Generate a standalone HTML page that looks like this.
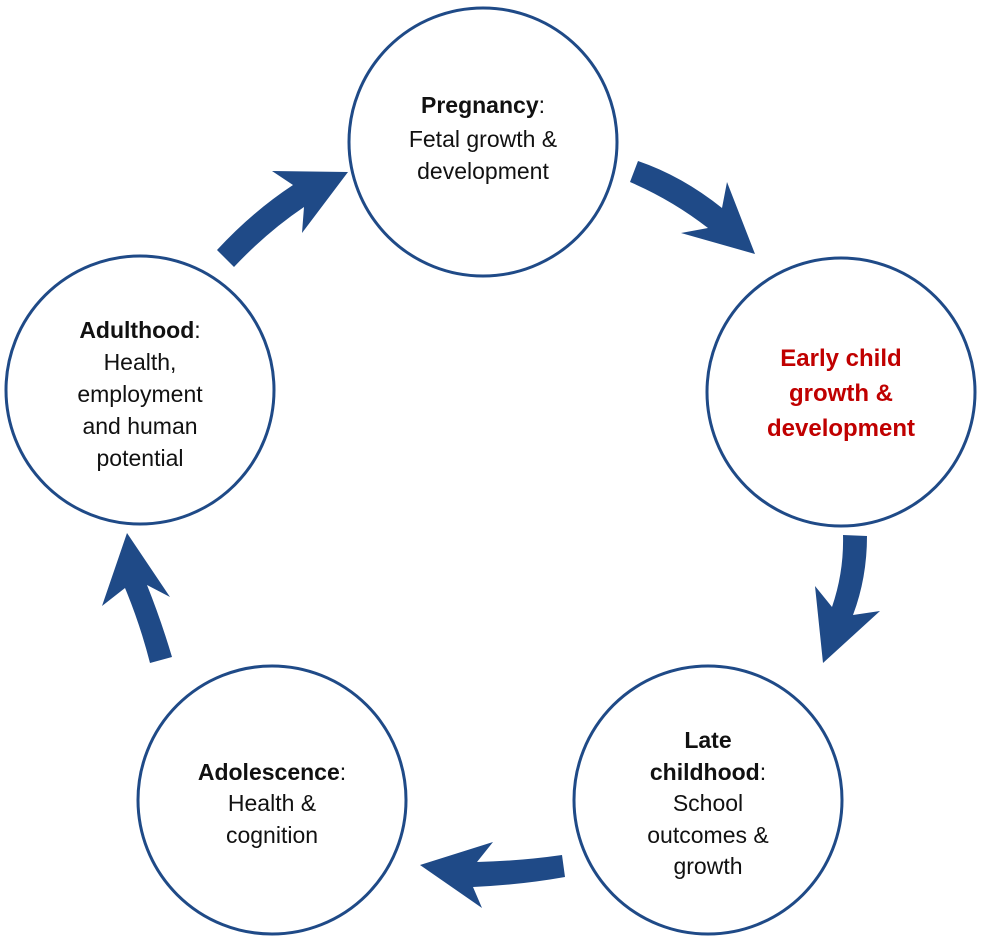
<!DOCTYPE html>
<html><head><meta charset="utf-8"><style>
html,body{margin:0;padding:0;background:#fff;}
svg{display:block}
text{font-family:"Liberation Sans",sans-serif;font-size:23px;fill:#111;text-anchor:middle}
.b{font-weight:bold}
.r{fill:#c00000;font-weight:bold;font-size:24px}
</style></head><body>
<svg width="986" height="948" viewBox="0 0 986 948" xmlns="http://www.w3.org/2000/svg">
<g fill="#fff" stroke="#1f4a87" stroke-width="3">
<circle cx="483" cy="142" r="134"/>
<circle cx="841" cy="392" r="134"/>
<circle cx="708" cy="800" r="134"/>
<circle cx="272" cy="800" r="134"/>
<circle cx="140" cy="390" r="134"/>
</g>
<g fill="#1f4a87">
<path d="M638,161 Q682,176 722,208 L727,182 L755,254 L681,233 L708,228 Q672,200 630,182 Z"/>
<path d="M843,535 L867,536 Q867,578 853,615 L880,611 L823,663 L815,586 L832,607 Q844,572 843,535 Z"/>
<path d="M562,855 L565,877 Q520,885 473,887 L482,908 L420,865 L493,842 L477,862 Q520,861 562,855 Z"/>
<path d="M150,663 L172,657 Q161,620 147,585 L170,597 L127,533 L102,606 L125,588 Q140,624 150,663 Z"/>
<path d="M217,250 L234,267 Q267,232 304,207 L302,233 L348,172 L272,171 L293,185 Q252,212 217,250 Z"/>
</g>
<text x="483" y="113"><tspan class="b">Pregnancy</tspan>:</text>
<text x="483" y="147">Fetal growth &amp;</text>
<text x="483" y="179">development</text>
<text class="r" x="841" y="366">Early child</text>
<text class="r" x="841" y="401">growth &amp;</text>
<text class="r" x="841" y="436">development</text>
<text x="708" y="748" class="b">Late</text>
<text x="708" y="780"><tspan class="b">childhood</tspan>:</text>
<text x="708" y="811">School</text>
<text x="708" y="843">outcomes &amp;</text>
<text x="708" y="874">growth</text>
<text x="272" y="780"><tspan class="b">Adolescence</tspan>:</text>
<text x="272" y="811">Health &amp;</text>
<text x="272" y="843">cognition</text>
<text x="140" y="338"><tspan class="b">Adulthood</tspan>:</text>
<text x="140" y="370">Health,</text>
<text x="140" y="402">employment</text>
<text x="140" y="434">and human</text>
<text x="140" y="466">potential</text>
</svg>
</body></html>
